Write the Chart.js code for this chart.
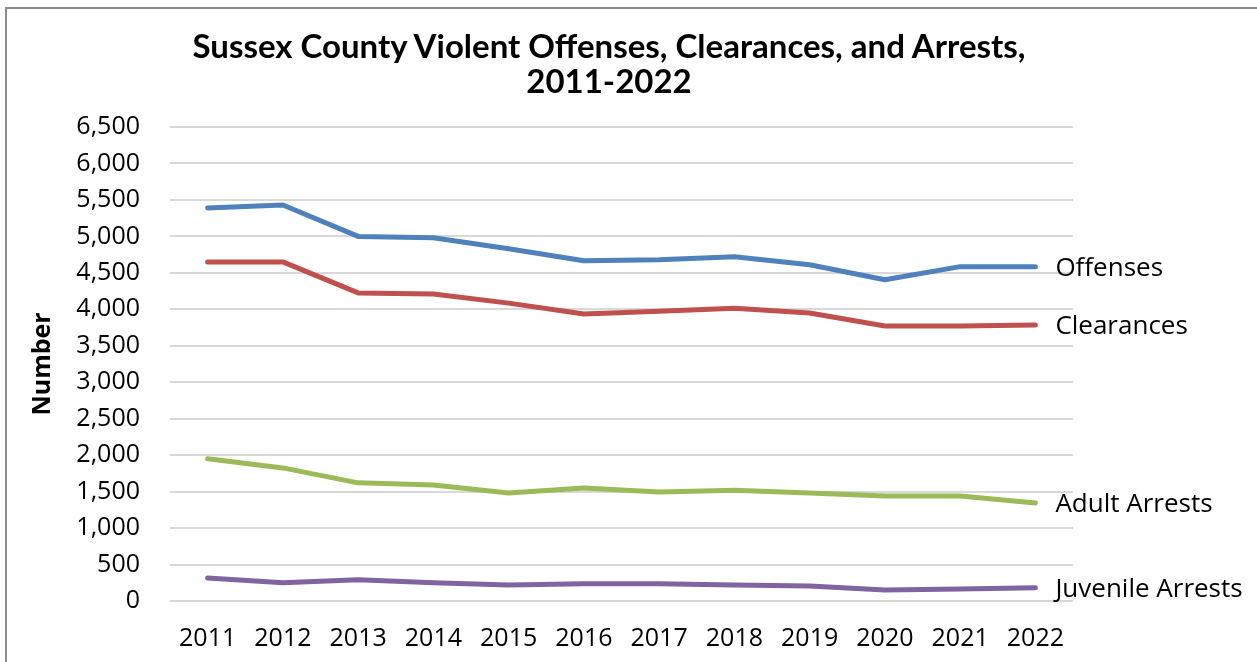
<!DOCTYPE html>
<html>
<head>
<meta charset="utf-8">
<script src="https://cdn.jsdelivr.net/npm/chart.js@4.4.1/dist/chart.umd.min.js"></script>
<style>
    html, body { margin: 0; padding: 0; background: #fff; overflow: hidden; }
    .frame { position: absolute; left: 5px; top: 7px; width: 1400px; height: 800px; border: 2px solid #8c8c8c; }
    .title { position: absolute; left: 0; top: 28px; width: 1218px; text-align: center;
             font: bold 33px Lato, "Open Sans", sans-serif; line-height: 35px; color: #000; }
    .wrap { position: absolute; left: 0; top: 0; width: 1257px; height: 662px; }
</style>
</head>
<body>
<div class="frame"></div>
<div class="wrap"><canvas id="crime-chart"></canvas></div>
<div class="title">Sussex County Violent Offenses, Clearances, and Arrests,<br>2011-2022</div>
<script>
    // data
    var years = ["2011", "2012", "2013", "2014", "2015", "2016", "2017", "2018", "2019", "2020", "2021", "2022"];
    var offenses = [5390, 5430, 5000, 4980, 4830, 4665, 4680, 4720, 4610, 4405, 4585, 4585];
    var clearances = [4650, 4650, 4225, 4210, 4085, 3935, 3975, 4015, 3950, 3770, 3770, 3785];
    var adultArrests = [1950, 1825, 1620, 1590, 1480, 1550, 1495, 1520, 1480, 1440, 1440, 1345];
    var juvenileArrests = [315, 250, 290, 250, 220, 235, 235, 220, 205, 150, 165, 180];
    var seriesNames = ["Offenses", "Clearances", "Adult Arrests", "Juvenile Arrests"];
    var seriesColors = ["#4f81bd", "#c0504d", "#9bbb59", "#8064a2"];

    // labels at the end of each line
    var endLabels = {
        id: 'endLabels',
        afterDatasetsDraw: function (chart) {
            var ctx = chart.ctx;
            ctx.save();
            ctx.font = '26px "Open Sans"';
            ctx.fillStyle = '#000';
            ctx.textBaseline = 'middle';
            chart.data.datasets.forEach(function (ds, i) {
                var pts = chart.getDatasetMeta(i).data;
                var p = pts[pts.length - 1];
                ctx.fillText(ds.label, p.x + 20, p.y + 2);
            });
            ctx.restore();
        }
    };

    function line(name, data, color) {
        return {
            label: name,
            data: data,
            borderColor: color,
            backgroundColor: color,
            borderWidth: 5,
            borderCapStyle: 'round',
            borderJoinStyle: 'round',
            pointRadius: 0,
            tension: 0
        };
    }

    var ctx1 = document.getElementById('crime-chart').getContext('2d');
    var myChart1 = new Chart(ctx1, {
        type: 'line',
        data: {
            labels: years,
            datasets: [
                line(seriesNames[0], offenses, seriesColors[0]),
                line(seriesNames[1], clearances, seriesColors[1]),
                line(seriesNames[2], adultArrests, seriesColors[2]),
                line(seriesNames[3], juvenileArrests, seriesColors[3])
            ]
        },
        options: {
            responsive: true,
            maintainAspectRatio: false,
            animation: false,
            layout: { padding: { top: 127, right: 184, bottom: 0, left: 0 } },
            plugins: {
                legend: { display: false },
                tooltip: { enabled: false }
            },
            scales: {
                x: {
                    offset: true,
                    grid: { display: false },
                    border: { display: false },
                    ticks: { color: '#000', padding: 15, font: { family: 'Open Sans', size: 25 } },
                    afterFit: function (scale) { scale.height = 61; }
                },
                y: {
                    min: 0,
                    max: 6500,
                    ticks: { stepSize: 500, color: '#000', padding: 30, font: { family: 'Open Sans', size: 25 } },
                    grid: { color: '#d9d9d9', lineWidth: 2, drawTicks: false },
                    border: { display: false },
                    title: {
                        display: true,
                        text: 'Number',
                        color: '#000',
                        padding: { top: 28, bottom: 0 },
                        font: { family: 'Open Sans', size: 25, weight: 'bold' }
                    },
                    afterFit: function (scale) { scale.width = 170; }
                }
            }
        },
        plugins: [endLabels]
    });
</script>
</body>
</html>
